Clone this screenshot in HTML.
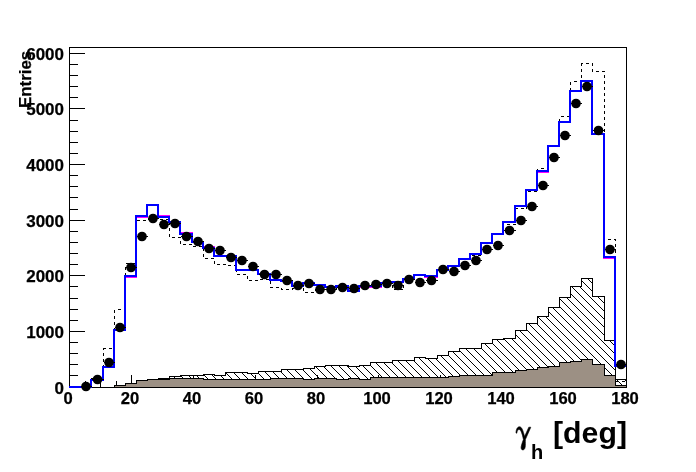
<!DOCTYPE html>
<html><head><meta charset="utf-8"><title>gamma_h</title>
<style>
html,body{margin:0;padding:0;background:#fff;}
body{width:696px;height:472px;position:relative;overflow:hidden;font-family:"Liberation Sans",sans-serif;font-weight:bold;color:#000;}
.yl{position:absolute;right:632.2px;width:60px;text-align:right;font-size:17px;-webkit-text-stroke:0.25px #000;line-height:18px;height:18px;}
.xl{position:absolute;top:390px;width:60px;text-align:center;font-size:16.6px;-webkit-text-stroke:0.25px #000;line-height:18px;height:18px;}
.ent{position:absolute;left:17.5px;top:107.6px;font-size:16.9px;-webkit-text-stroke:0.25px #000;line-height:16px;transform-origin:0 0;transform:rotate(-90deg);white-space:nowrap;}
.xt{position:absolute;left:553.0px;top:414.5px;font-size:29.5px;line-height:36px;white-space:nowrap;transform-origin:0 0;transform:scaleX(1.026);}
div{will-change:transform;}
.hs{position:absolute;left:531px;top:439.5px;font-size:20px;line-height:24px;}
</style></head><body>
<svg width="696" height="472" viewBox="0 0 696 472" style="position:absolute;left:0;top:0">
<defs><pattern id="h" x="0" y="0" width="8" height="8" patternUnits="userSpaceOnUse"><g fill="#000" shape-rendering="crispEdges"><rect x="5" y="0" width="1" height="1"/><rect x="6" y="1" width="1" height="1"/><rect x="7" y="2" width="1" height="1"/><rect x="0" y="3" width="1" height="1"/><rect x="1" y="4" width="1" height="1"/><rect x="2" y="5" width="1" height="1"/><rect x="3" y="6" width="1" height="1"/><rect x="4" y="7" width="1" height="1"/></g></pattern></defs>
<g shape-rendering="crispEdges" stroke="#000" stroke-width="1" fill="none">
<rect x="69.5" y="47.5" width="557.0" height="340.0"/>
<path d="M69.5,387.5 h15.5"/>
<path d="M69.5,375.5 h8.5"/>
<path d="M69.5,364.5 h8.5"/>
<path d="M69.5,353.5 h8.5"/>
<path d="M69.5,342.5 h8.5"/>
<path d="M69.5,331.5 h15.5"/>
<path d="M69.5,320.5 h8.5"/>
<path d="M69.5,309.5 h8.5"/>
<path d="M69.5,298.5 h8.5"/>
<path d="M69.5,286.5 h8.5"/>
<path d="M69.5,275.5 h15.5"/>
<path d="M69.5,264.5 h8.5"/>
<path d="M69.5,253.5 h8.5"/>
<path d="M69.5,242.5 h8.5"/>
<path d="M69.5,231.5 h8.5"/>
<path d="M69.5,220.5 h15.5"/>
<path d="M69.5,209.5 h8.5"/>
<path d="M69.5,197.5 h8.5"/>
<path d="M69.5,186.5 h8.5"/>
<path d="M69.5,175.5 h8.5"/>
<path d="M69.5,164.5 h15.5"/>
<path d="M69.5,153.5 h8.5"/>
<path d="M69.5,142.5 h8.5"/>
<path d="M69.5,131.5 h8.5"/>
<path d="M69.5,120.5 h8.5"/>
<path d="M69.5,108.5 h15.5"/>
<path d="M69.5,97.5 h8.5"/>
<path d="M69.5,86.5 h8.5"/>
<path d="M69.5,75.5 h8.5"/>
<path d="M69.5,64.5 h8.5"/>
<path d="M69.5,53.5 h15.5"/>
<path d="M69.5,388 V375.0"/>
<path d="M85.5,388 V381.0"/>
<path d="M100.5,388 V381.0"/>
<path d="M116.5,388 V381.0"/>
<path d="M131.5,388 V375.0"/>
<path d="M146.5,388 V381.0"/>
<path d="M162.5,388 V381.0"/>
<path d="M177.5,388 V381.0"/>
<path d="M193.5,388 V375.0"/>
<path d="M208.5,388 V381.0"/>
<path d="M224.5,388 V381.0"/>
<path d="M239.5,388 V381.0"/>
<path d="M255.5,388 V375.0"/>
<path d="M270.5,388 V381.0"/>
<path d="M286.5,388 V381.0"/>
<path d="M301.5,388 V381.0"/>
<path d="M317.5,388 V375.0"/>
<path d="M332.5,388 V381.0"/>
<path d="M348.5,388 V381.0"/>
<path d="M363.5,388 V381.0"/>
<path d="M378.5,388 V375.0"/>
<path d="M394.5,388 V381.0"/>
<path d="M409.5,388 V381.0"/>
<path d="M425.5,388 V381.0"/>
<path d="M440.5,388 V375.0"/>
<path d="M456.5,388 V381.0"/>
<path d="M471.5,388 V381.0"/>
<path d="M487.5,388 V381.0"/>
<path d="M502.5,388 V375.0"/>
<path d="M518.5,388 V381.0"/>
<path d="M533.5,388 V381.0"/>
<path d="M549.5,388 V381.0"/>
<path d="M564.5,388 V375.0"/>
<path d="M579.5,388 V381.0"/>
<path d="M595.5,388 V381.0"/>
<path d="M610.5,388 V381.0"/>
<path d="M626.5,388 V375.0"/>
</g>
<path d="M69.50,387.50 L69.50,387.50 L80.50,387.50 L80.50,387.50 L91.50,387.50 L91.50,387.50 L103.50,387.50 L103.50,387.50 L114.50,387.50 L114.50,385.50 L125.50,385.50 L125.50,383.50 L136.50,383.50 L136.50,380.50 L147.50,380.50 L147.50,379.50 L158.50,379.50 L158.50,378.50 L169.50,378.50 L169.50,376.50 L180.50,376.50 L180.50,375.50 L192.50,375.50 L192.50,375.50 L203.50,375.50 L203.50,374.50 L214.50,374.50 L214.50,375.50 L225.50,375.50 L225.50,372.50 L236.50,372.50 L236.50,372.50 L247.50,372.50 L247.50,373.50 L258.50,373.50 L258.50,371.50 L270.50,371.50 L270.50,371.50 L281.50,371.50 L281.50,369.50 L292.50,369.50 L292.50,369.50 L303.50,369.50 L303.50,368.50 L314.50,368.50 L314.50,366.50 L325.50,366.50 L325.50,365.50 L336.50,365.50 L336.50,365.50 L348.50,365.50 L348.50,366.50 L359.50,366.50 L359.50,365.50 L370.50,365.50 L370.50,362.50 L381.50,362.50 L381.50,362.50 L392.50,362.50 L392.50,360.50 L403.50,360.50 L403.50,360.50 L414.50,360.50 L414.50,357.50 L425.50,357.50 L425.50,358.50 L437.50,358.50 L437.50,355.50 L448.50,355.50 L448.50,351.50 L459.50,351.50 L459.50,348.50 L470.50,348.50 L470.50,348.50 L481.50,348.50 L481.50,343.50 L492.50,343.50 L492.50,339.50 L503.50,339.50 L503.50,338.50 L515.50,338.50 L515.50,330.50 L526.50,330.50 L526.50,323.50 L537.50,323.50 L537.50,316.50 L548.50,316.50 L548.50,307.50 L559.50,307.50 L559.50,297.50 L570.50,297.50 L570.50,286.50 L581.50,286.50 L581.50,278.50 L592.50,278.50 L592.50,296.50 L604.50,296.50 L604.50,340.50 L615.50,340.50 L615.50,379.50 L626.50,379.50 L626.50,387.50 Z" fill="url(#h)" stroke="#000" stroke-width="1" shape-rendering="crispEdges"/>
<path d="M69.50,387.50 L69.50,387.50 L80.50,387.50 L80.50,387.50 L91.50,387.50 L91.50,387.50 L103.50,387.50 L103.50,387.50 L114.50,387.50 L114.50,385.50 L125.50,385.50 L125.50,383.50 L136.50,383.50 L136.50,380.50 L147.50,380.50 L147.50,379.50 L158.50,379.50 L158.50,379.50 L169.50,379.50 L169.50,378.50 L180.50,378.50 L180.50,378.50 L192.50,378.50 L192.50,378.50 L203.50,378.50 L203.50,379.50 L214.50,379.50 L214.50,379.50 L225.50,379.50 L225.50,379.50 L236.50,379.50 L236.50,379.50 L247.50,379.50 L247.50,379.50 L258.50,379.50 L258.50,379.50 L270.50,379.50 L270.50,378.50 L281.50,378.50 L281.50,378.50 L292.50,378.50 L292.50,378.50 L303.50,378.50 L303.50,379.50 L314.50,379.50 L314.50,378.50 L325.50,378.50 L325.50,378.50 L336.50,378.50 L336.50,379.50 L348.50,379.50 L348.50,378.50 L359.50,378.50 L359.50,379.50 L370.50,379.50 L370.50,377.50 L381.50,377.50 L381.50,377.50 L392.50,377.50 L392.50,377.50 L403.50,377.50 L403.50,377.50 L414.50,377.50 L414.50,377.50 L425.50,377.50 L425.50,377.50 L437.50,377.50 L437.50,377.50 L448.50,377.50 L448.50,376.50 L459.50,376.50 L459.50,375.50 L470.50,375.50 L470.50,375.50 L481.50,375.50 L481.50,375.50 L492.50,375.50 L492.50,372.50 L503.50,372.50 L503.50,372.50 L515.50,372.50 L515.50,370.50 L526.50,370.50 L526.50,369.50 L537.50,369.50 L537.50,367.50 L548.50,367.50 L548.50,366.50 L559.50,366.50 L559.50,362.50 L570.50,362.50 L570.50,361.50 L581.50,361.50 L581.50,359.50 L592.50,359.50 L592.50,364.50 L604.50,364.50 L604.50,375.50 L615.50,375.50 L615.50,385.50 L626.50,385.50 L626.50,387.50 Z" fill="#9c9084" stroke="#000" stroke-width="1" shape-rendering="crispEdges"/>
<path d="M69.50,387.50 L69.50,387.50 L80.50,387.50 L80.50,387.50 L91.50,387.50 L91.50,378.50 L103.50,378.50 L103.50,348.50 L114.50,348.50 L114.50,309.50 L125.50,309.50 L125.50,263.50 L136.50,263.50 L136.50,220.50 L147.50,220.50 L147.50,219.50 L158.50,219.50 L158.50,219.50 L169.50,219.50 L169.50,237.50 L180.50,237.50 L180.50,244.50 L192.50,244.50 L192.50,246.50 L203.50,246.50 L203.50,258.50 L214.50,258.50 L214.50,264.50 L225.50,264.50 L225.50,265.50 L236.50,265.50 L236.50,274.50 L247.50,274.50 L247.50,280.50 L258.50,280.50 L258.50,279.50 L270.50,279.50 L270.50,287.50 L281.50,287.50 L281.50,289.50 L292.50,289.50 L292.50,288.50 L303.50,288.50 L303.50,292.50 L314.50,292.50 L314.50,290.50 L325.50,290.50 L325.50,289.50 L336.50,289.50 L336.50,286.50 L348.50,286.50 L348.50,291.50 L359.50,291.50 L359.50,286.50 L370.50,286.50 L370.50,286.50 L381.50,286.50 L381.50,283.50 L392.50,283.50 L392.50,289.50 L403.50,289.50 L403.50,279.50 L414.50,279.50 L414.50,275.50 L425.50,275.50 L425.50,276.50 L437.50,276.50 L437.50,270.50 L448.50,270.50 L448.50,266.50 L459.50,266.50 L459.50,259.50 L470.50,259.50 L470.50,255.50 L481.50,255.50 L481.50,243.50 L492.50,243.50 L492.50,234.50 L503.50,234.50 L503.50,224.50 L515.50,224.50 L515.50,208.50 L526.50,208.50 L526.50,191.50 L537.50,191.50 L537.50,168.50 L548.50,168.50 L548.50,146.50 L559.50,146.50 L559.50,116.50 L570.50,116.50 L570.50,81.50 L581.50,81.50 L581.50,63.50 L592.50,63.50 L592.50,71.50 L604.50,71.50 L604.50,239.50 L615.50,239.50 L615.50,381.50 L626.50,381.50" fill="none" stroke="#000" stroke-width="1" stroke-dasharray="3,3" shape-rendering="crispEdges"/>
<path d="M69.00,387.00 L69.00,387.00 L80.00,387.00 L80.00,387.00 L91.00,387.00 L91.00,380.00 L103.00,380.00 L103.00,367.00 L114.00,367.00 L114.00,330.00 L125.00,330.00 L125.00,277.00 L136.00,277.00 L136.00,217.00 L147.00,217.00 L147.00,205.00 L158.00,205.00 L158.00,216.00 L169.00,216.00 L169.00,222.00 L180.00,222.00 L180.00,233.00 L192.00,233.00 L192.00,242.00 L203.00,242.00 L203.00,247.00 L214.00,247.00 L214.00,256.00 L225.00,256.00 L225.00,256.00 L236.00,256.00 L236.00,270.00 L247.00,270.00 L247.00,270.00 L258.00,270.00 L258.00,274.00 L270.00,274.00 L270.00,280.00 L281.00,280.00 L281.00,281.00 L292.00,281.00 L292.00,286.00 L303.00,286.00 L303.00,283.00 L314.00,283.00 L314.00,285.00 L325.00,285.00 L325.00,287.00 L336.00,287.00 L336.00,286.00 L348.00,286.00 L348.00,291.00 L359.00,291.00 L359.00,287.00 L370.00,287.00 L370.00,287.00 L381.00,287.00 L381.00,283.00 L392.00,283.00 L392.00,282.00 L403.00,282.00 L403.00,279.00 L414.00,279.00 L414.00,275.00 L425.00,275.00 L425.00,277.00 L437.00,277.00 L437.00,270.00 L448.00,270.00 L448.00,266.00 L459.00,266.00 L459.00,259.00 L470.00,259.00 L470.00,254.00 L481.00,254.00 L481.00,243.00 L492.00,243.00 L492.00,234.00 L503.00,234.00 L503.00,222.00 L515.00,222.00 L515.00,206.00 L526.00,206.00 L526.00,190.00 L537.00,190.00 L537.00,172.00 L548.00,172.00 L548.00,146.00 L559.00,146.00 L559.00,122.00 L570.00,122.00 L570.00,91.00 L581.00,91.00 L581.00,81.00 L592.00,81.00 L592.00,134.00 L604.00,134.00 L604.00,258.00 L615.00,258.00 L615.00,366.00 L626.00,366.00" fill="none" stroke="#f0f" stroke-width="2" shape-rendering="crispEdges"/>
<path d="M69.00,387.00 L69.00,387.00 L80.00,387.00 L80.00,387.00 L91.00,387.00 L91.00,380.00 L103.00,380.00 L103.00,367.00 L114.00,367.00 L114.00,330.00 L125.00,330.00 L125.00,276.00 L136.00,276.00 L136.00,216.00 L147.00,216.00 L147.00,205.00 L158.00,205.00 L158.00,217.00 L169.00,217.00 L169.00,222.00 L180.00,222.00 L180.00,234.00 L192.00,234.00 L192.00,242.00 L203.00,242.00 L203.00,248.00 L214.00,248.00 L214.00,256.00 L225.00,256.00 L225.00,256.00 L236.00,256.00 L236.00,270.00 L247.00,270.00 L247.00,270.00 L258.00,270.00 L258.00,274.00 L270.00,274.00 L270.00,280.00 L281.00,280.00 L281.00,281.00 L292.00,281.00 L292.00,286.00 L303.00,286.00 L303.00,283.00 L314.00,283.00 L314.00,285.00 L325.00,285.00 L325.00,287.00 L336.00,287.00 L336.00,286.00 L348.00,286.00 L348.00,291.00 L359.00,291.00 L359.00,286.00 L370.00,286.00 L370.00,286.00 L381.00,286.00 L381.00,283.00 L392.00,283.00 L392.00,282.00 L403.00,282.00 L403.00,279.00 L414.00,279.00 L414.00,275.00 L425.00,275.00 L425.00,276.00 L437.00,276.00 L437.00,270.00 L448.00,270.00 L448.00,266.00 L459.00,266.00 L459.00,259.00 L470.00,259.00 L470.00,254.00 L481.00,254.00 L481.00,243.00 L492.00,243.00 L492.00,234.00 L503.00,234.00 L503.00,222.00 L515.00,222.00 L515.00,206.00 L526.00,206.00 L526.00,190.00 L537.00,190.00 L537.00,171.00 L548.00,171.00 L548.00,146.00 L559.00,146.00 L559.00,122.00 L570.00,122.00 L570.00,91.00 L581.00,91.00 L581.00,81.00 L592.00,81.00 L592.00,134.00 L604.00,134.00 L604.00,257.00 L615.00,257.00 L615.00,366.00 L626.00,366.00" fill="none" stroke="#0000ff" stroke-width="2" shape-rendering="crispEdges" stroke-linejoin="miter"/>
<path d="M91.5,387.5 H626.5" stroke="#000" stroke-width="1" shape-rendering="crispEdges"/>
<path d="M80.50,386.50 H91.50" stroke="#000" stroke-width="1" shape-rendering="crispEdges"/>
<circle cx="86.00" cy="386.50" r="4.8" fill="#000"/>
<path d="M91.50,379.50 H103.50" stroke="#000" stroke-width="1" shape-rendering="crispEdges"/>
<circle cx="97.50" cy="379.50" r="4.8" fill="#000"/>
<path d="M103.50,362.50 H114.50" stroke="#000" stroke-width="1" shape-rendering="crispEdges"/>
<circle cx="109.00" cy="362.50" r="4.8" fill="#000"/>
<path d="M114.50,327.50 H125.50" stroke="#000" stroke-width="1" shape-rendering="crispEdges"/>
<circle cx="120.00" cy="327.50" r="4.8" fill="#000"/>
<path d="M125.50,267.50 H136.50" stroke="#000" stroke-width="1" shape-rendering="crispEdges"/>
<circle cx="131.00" cy="267.50" r="4.8" fill="#000"/>
<path d="M136.50,236.50 H147.50" stroke="#000" stroke-width="1" shape-rendering="crispEdges"/>
<circle cx="142.00" cy="236.50" r="4.8" fill="#000"/>
<path d="M147.50,218.50 H158.50" stroke="#000" stroke-width="1" shape-rendering="crispEdges"/>
<circle cx="153.00" cy="218.50" r="4.8" fill="#000"/>
<path d="M158.50,224.50 H169.50" stroke="#000" stroke-width="1" shape-rendering="crispEdges"/>
<circle cx="164.00" cy="224.50" r="4.8" fill="#000"/>
<path d="M169.50,223.50 H180.50" stroke="#000" stroke-width="1" shape-rendering="crispEdges"/>
<circle cx="175.00" cy="223.50" r="4.8" fill="#000"/>
<path d="M180.50,236.50 H192.50" stroke="#000" stroke-width="1" shape-rendering="crispEdges"/>
<circle cx="186.50" cy="236.50" r="4.8" fill="#000"/>
<path d="M192.50,241.50 H203.50" stroke="#000" stroke-width="1" shape-rendering="crispEdges"/>
<circle cx="198.00" cy="241.50" r="4.8" fill="#000"/>
<path d="M203.50,248.50 H214.50" stroke="#000" stroke-width="1" shape-rendering="crispEdges"/>
<circle cx="209.00" cy="248.50" r="4.8" fill="#000"/>
<path d="M214.50,250.50 H225.50" stroke="#000" stroke-width="1" shape-rendering="crispEdges"/>
<circle cx="220.00" cy="250.50" r="4.8" fill="#000"/>
<path d="M225.50,257.50 H236.50" stroke="#000" stroke-width="1" shape-rendering="crispEdges"/>
<circle cx="231.00" cy="257.50" r="4.8" fill="#000"/>
<path d="M236.50,260.50 H247.50" stroke="#000" stroke-width="1" shape-rendering="crispEdges"/>
<circle cx="242.00" cy="260.50" r="4.8" fill="#000"/>
<path d="M247.50,266.50 H258.50" stroke="#000" stroke-width="1" shape-rendering="crispEdges"/>
<circle cx="253.00" cy="266.50" r="4.8" fill="#000"/>
<path d="M258.50,274.50 H270.50" stroke="#000" stroke-width="1" shape-rendering="crispEdges"/>
<circle cx="264.50" cy="274.50" r="4.8" fill="#000"/>
<path d="M270.50,274.50 H281.50" stroke="#000" stroke-width="1" shape-rendering="crispEdges"/>
<circle cx="276.00" cy="274.50" r="4.8" fill="#000"/>
<path d="M281.50,280.50 H292.50" stroke="#000" stroke-width="1" shape-rendering="crispEdges"/>
<circle cx="287.00" cy="280.50" r="4.8" fill="#000"/>
<path d="M292.50,285.50 H303.50" stroke="#000" stroke-width="1" shape-rendering="crispEdges"/>
<circle cx="298.00" cy="285.50" r="4.8" fill="#000"/>
<path d="M303.50,283.50 H314.50" stroke="#000" stroke-width="1" shape-rendering="crispEdges"/>
<circle cx="309.00" cy="283.50" r="4.8" fill="#000"/>
<path d="M314.50,289.50 H325.50" stroke="#000" stroke-width="1" shape-rendering="crispEdges"/>
<circle cx="320.00" cy="289.50" r="4.8" fill="#000"/>
<path d="M325.50,289.50 H336.50" stroke="#000" stroke-width="1" shape-rendering="crispEdges"/>
<circle cx="331.00" cy="289.50" r="4.8" fill="#000"/>
<path d="M336.50,287.50 H348.50" stroke="#000" stroke-width="1" shape-rendering="crispEdges"/>
<circle cx="342.50" cy="287.50" r="4.8" fill="#000"/>
<path d="M348.50,288.50 H359.50" stroke="#000" stroke-width="1" shape-rendering="crispEdges"/>
<circle cx="354.00" cy="288.50" r="4.8" fill="#000"/>
<path d="M359.50,285.50 H370.50" stroke="#000" stroke-width="1" shape-rendering="crispEdges"/>
<circle cx="365.00" cy="285.50" r="4.8" fill="#000"/>
<path d="M370.50,284.50 H381.50" stroke="#000" stroke-width="1" shape-rendering="crispEdges"/>
<circle cx="376.00" cy="284.50" r="4.8" fill="#000"/>
<path d="M381.50,283.50 H392.50" stroke="#000" stroke-width="1" shape-rendering="crispEdges"/>
<circle cx="387.00" cy="283.50" r="4.8" fill="#000"/>
<path d="M392.50,285.50 H403.50" stroke="#000" stroke-width="1" shape-rendering="crispEdges"/>
<circle cx="398.00" cy="285.50" r="4.8" fill="#000"/>
<path d="M403.50,279.50 H414.50" stroke="#000" stroke-width="1" shape-rendering="crispEdges"/>
<circle cx="409.00" cy="279.50" r="4.8" fill="#000"/>
<path d="M414.50,282.50 H425.50" stroke="#000" stroke-width="1" shape-rendering="crispEdges"/>
<circle cx="420.00" cy="282.50" r="4.8" fill="#000"/>
<path d="M425.50,280.50 H437.50" stroke="#000" stroke-width="1" shape-rendering="crispEdges"/>
<circle cx="431.50" cy="280.50" r="4.8" fill="#000"/>
<path d="M437.50,269.50 H448.50" stroke="#000" stroke-width="1" shape-rendering="crispEdges"/>
<circle cx="443.00" cy="269.50" r="4.8" fill="#000"/>
<path d="M448.50,271.50 H459.50" stroke="#000" stroke-width="1" shape-rendering="crispEdges"/>
<circle cx="454.00" cy="271.50" r="4.8" fill="#000"/>
<path d="M459.50,265.50 H470.50" stroke="#000" stroke-width="1" shape-rendering="crispEdges"/>
<circle cx="465.00" cy="265.50" r="4.8" fill="#000"/>
<path d="M470.50,260.50 H481.50" stroke="#000" stroke-width="1" shape-rendering="crispEdges"/>
<circle cx="476.00" cy="260.50" r="4.8" fill="#000"/>
<path d="M481.50,249.50 H492.50" stroke="#000" stroke-width="1" shape-rendering="crispEdges"/>
<circle cx="487.00" cy="249.50" r="4.8" fill="#000"/>
<path d="M492.50,245.50 H503.50" stroke="#000" stroke-width="1" shape-rendering="crispEdges"/>
<circle cx="498.00" cy="245.50" r="4.8" fill="#000"/>
<path d="M503.50,230.50 H515.50" stroke="#000" stroke-width="1" shape-rendering="crispEdges"/>
<circle cx="509.50" cy="230.50" r="4.8" fill="#000"/>
<path d="M515.50,220.50 H526.50" stroke="#000" stroke-width="1" shape-rendering="crispEdges"/>
<circle cx="521.00" cy="220.50" r="4.8" fill="#000"/>
<path d="M526.50,206.50 H537.50" stroke="#000" stroke-width="1" shape-rendering="crispEdges"/>
<circle cx="532.00" cy="206.50" r="4.8" fill="#000"/>
<path d="M537.50,185.50 H548.50" stroke="#000" stroke-width="1" shape-rendering="crispEdges"/>
<circle cx="543.00" cy="185.50" r="4.8" fill="#000"/>
<path d="M548.50,157.50 H559.50" stroke="#000" stroke-width="1" shape-rendering="crispEdges"/>
<circle cx="554.00" cy="157.50" r="4.8" fill="#000"/>
<path d="M559.50,135.50 H570.50" stroke="#000" stroke-width="1" shape-rendering="crispEdges"/>
<circle cx="565.00" cy="135.50" r="4.8" fill="#000"/>
<path d="M570.50,103.50 H581.50" stroke="#000" stroke-width="1" shape-rendering="crispEdges"/>
<circle cx="576.00" cy="103.50" r="4.8" fill="#000"/>
<path d="M581.50,86.50 H592.50" stroke="#000" stroke-width="1" shape-rendering="crispEdges"/>
<circle cx="587.00" cy="86.50" r="4.8" fill="#000"/>
<path d="M592.50,130.50 H604.50" stroke="#000" stroke-width="1" shape-rendering="crispEdges"/>
<circle cx="598.50" cy="130.50" r="4.8" fill="#000"/>
<path d="M604.50,249.50 H615.50" stroke="#000" stroke-width="1" shape-rendering="crispEdges"/>
<circle cx="610.00" cy="249.50" r="4.8" fill="#000"/>
<path d="M615.50,364.50 H626.50" stroke="#000" stroke-width="1" shape-rendering="crispEdges"/>
<circle cx="621.00" cy="364.50" r="4.8" fill="#000"/>
<path d="M516.0,433.0 C516.0,429.5 517.3,426.8 519.6,426.8 C521.8,426.8 523.0,430.5 524.6,436.5 L528.8,427.2 L530.8,427.2 L525.4,439.5 C525.2,442 525.6,445 525.2,447 C524.8,449.5 523.5,449.9 522.8,449.9 C521.5,449.9 520.8,448.5 521.2,446.5 C521.6,444 522.8,441.5 523.4,439.5 C522.4,434.5 521.0,429.5 519.0,429.5 C517.5,429.5 517.0,431.5 516.8,433.2 Z" fill="#000" stroke="#000" stroke-width="0.6"/>
</svg>
<div class="yl" style="top:379.7px">0</div>
<div class="yl" style="top:323.7px">1000</div>
<div class="yl" style="top:267.7px">2000</div>
<div class="yl" style="top:212.7px">3000</div>
<div class="yl" style="top:156.7px">4000</div>
<div class="yl" style="top:100.7px">5000</div>
<div class="yl" style="top:45.7px">6000</div>
<div class="xl" style="left:38.4px">0</div>
<div class="xl" style="left:100.4px">20</div>
<div class="xl" style="left:162.4px">40</div>
<div class="xl" style="left:224.4px">60</div>
<div class="xl" style="left:286.4px">80</div>
<div class="xl" style="left:347.4px">100</div>
<div class="xl" style="left:409.4px">120</div>
<div class="xl" style="left:471.4px">140</div>
<div class="xl" style="left:533.4px">160</div>
<div class="xl" style="left:595.4px">180</div>
<div class="ent">Entries</div>
<div class="hs">h</div>
<div class="xt">[deg]</div>
</body></html>
